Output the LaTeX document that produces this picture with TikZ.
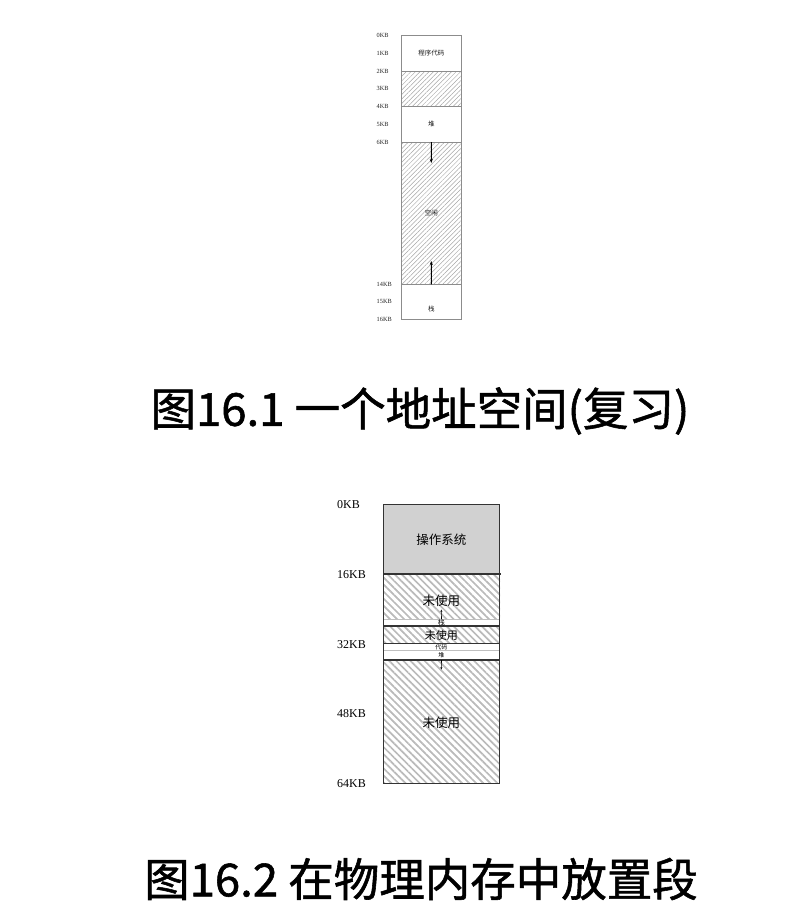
\documentclass[tikz,border=0pt]{standalone}
\usepackage{fontspec}
\setmainfont{Liberation Serif}
\newfontfamily\cjk{Noto Sans CJK SC}
\newfontfamily\cjkcap[FakeBold=1.2]{Noto Sans CJK SC}
\usetikzlibrary{patterns.meta,arrows.meta}
\tikzset{
  seg/.style={rectangle, draw=none, inner sep=0pt, anchor=north west},
  hatchA/.style={pattern={Lines[angle=45,distance=3.2pt,line width=0.5pt]}, pattern color=black!35},
  hatchB/.style={pattern={Lines[angle=-45,distance=5pt,line width=1.7pt]}, pattern color=black!27},
  kbA/.style={anchor=west, font=\fontsize{6.3}{7}\selectfont, text=black!85, inner sep=0pt},
  kbB/.style={anchor=west, font=\fontsize{12}{13}\selectfont, inner sep=0pt},
  txtA/.style={font=\cjk\fontsize{6.5}{7}\selectfont, inner sep=0pt, text=black!90},
  txtB/.style={font=\cjk\fontsize{12.5}{13}\selectfont, inner sep=0pt},
  tinytxt/.style={font=\cjk\fontsize{6}{6}\selectfont, inner sep=0pt},
  captxt/.style={font=\cjkcap\fontsize{45.5}{48}\selectfont, inner sep=0pt},
  lineA/.style={draw=black!45, line width=0.9pt},
  lineB/.style={draw=black!80, line width=1.1pt},
  lineL/.style={draw=black!25, line width=1pt},
  arr/.style={-{Stealth[length=4pt,width=3pt]}, line width=1pt},
  arrs/.style={-{Stealth[length=2.5pt,width=2pt]}, line width=0.6pt}
}
\begin{document}
\begin{tikzpicture}[x=1pt,y=-1pt]
\useasboundingbox (0,0) rectangle (808,908);
% ---------- Figure 16.1 ----------
\node[seg, minimum width=59.5pt, minimum height=35.5pt] (code) at (401.5,35.5) {};
\node[seg, hatchA, minimum width=59.5pt, minimum height=35.5pt] (h1) at (401.5,71) {};
\node[seg, minimum width=59.5pt, minimum height=35.5pt] (heap) at (401.5,106.5) {};
\node[seg, hatchA, minimum width=59.5pt, minimum height=142pt] (free) at (401.5,142) {};
\node[seg, minimum width=59.5pt, minimum height=35.5pt] (stack) at (401.5,284) {};
\draw[lineA] (code.north west) rectangle (stack.south east);
\draw[lineA] (h1.north west) -- (h1.north east);
\draw[lineA] (heap.north west) -- (heap.north east);
\draw[lineA] (free.north west) -- (free.north east);
\draw[lineA] (stack.north west) -- (stack.north east);
\node[txtA] (tcode) at (code.center) {程序代码};
\node[txtA] (theap) at (heap.center) {堆};
\node[txtA] (tfree) at (431.25,213) {空闲};
\node[txtA] (tstack) at (431.25,309) {栈};
\coordinate (ad) at (431.25,163);
\coordinate (au) at (431.25,261);
\draw[arr] (free.north) -- (ad);
\draw[arr] (free.south) -- (au);
\foreach \k/\lab in {0/0KB,1/1KB,2/2KB,3/3KB,4/4KB,5/5KB,6/6KB,14/14KB,15/15KB,16/16KB}
  \node[kbA] (ka\k) at (376.5,35.5+17.75*\k) {\lab};
\node[captxt] (cap1) at (420,411) {图16.1 一个地址空间(复习)};
% ---------- Figure 16.2 ----------
\node[seg, fill=black!18, minimum width=116pt, minimum height=69.7pt] (os) at (383.3,504.3) {};
\node[seg, hatchB, minimum width=116pt, minimum height=45pt] (u1) at (383.3,574) {};
\node[seg, minimum width=116pt, minimum height=7pt] (stk) at (383.3,619) {};
\node[seg, hatchB, minimum width=116pt, minimum height=17.5pt] (u2) at (383.3,626) {};
\node[seg, minimum width=116pt, minimum height=6.5pt] (cd) at (383.3,643.5) {};
\node[seg, minimum width=116pt, minimum height=10pt] (hp) at (383.3,650) {};
\node[seg, hatchB, minimum width=116pt, minimum height=123.3pt] (u3) at (383.3,660) {};
\draw[lineL] (stk.north west) -- (stk.north east);
\draw[lineL] (hp.north west) -- (hp.north east);
\draw[lineB] (u1.north west) -- (u1.north east);
\draw[lineB] (u2.north west) -- (u2.north east);
\draw[lineB] (cd.north west) -- (cd.north east);
\draw[lineB] (u3.north west) -- (u3.north east);
\draw[lineB] (os.north west) rectangle (u3.south east);
\node[txtB] (tos) at (441.3,539.5) {操作系统};
\node[txtB] (tu1) at (441.3,601) {未使用};
\node[tinytxt, font=\cjk\fontsize{7}{7}\selectfont] (tstk) at (441.3,623) {栈};
\node[txtB, font=\cjk\fontsize{11}{12}\selectfont] (tu2) at (441.3,635) {未使用};
\node[tinytxt] (tcd) at (441.3,646.8) {代码};
\node[tinytxt] (thp) at (441.3,655) {堆};
\node[txtB] (tu3) at (441.3,723) {未使用};
\coordinate (bu) at (441.3,609.5);
\coordinate (bd) at (441.3,669.5);
\draw[arrs] (stk.north) -- (bu);
\draw[arrs] (u3.north) -- (bd);
\node[kbB] (kb0) at (337,505) {0KB};
\node[kbB] (kb16) at (337,575) {16KB};
\node[kbB] (kb32) at (337,644.5) {32KB};
\node[kbB] (kb48) at (337,714) {48KB};
\node[kbB] (kb64) at (337,783.5) {64KB};
\node[captxt] (cap2) at (421,879) {图16.2 在物理内存中放置段};
\end{tikzpicture}
\end{document}
